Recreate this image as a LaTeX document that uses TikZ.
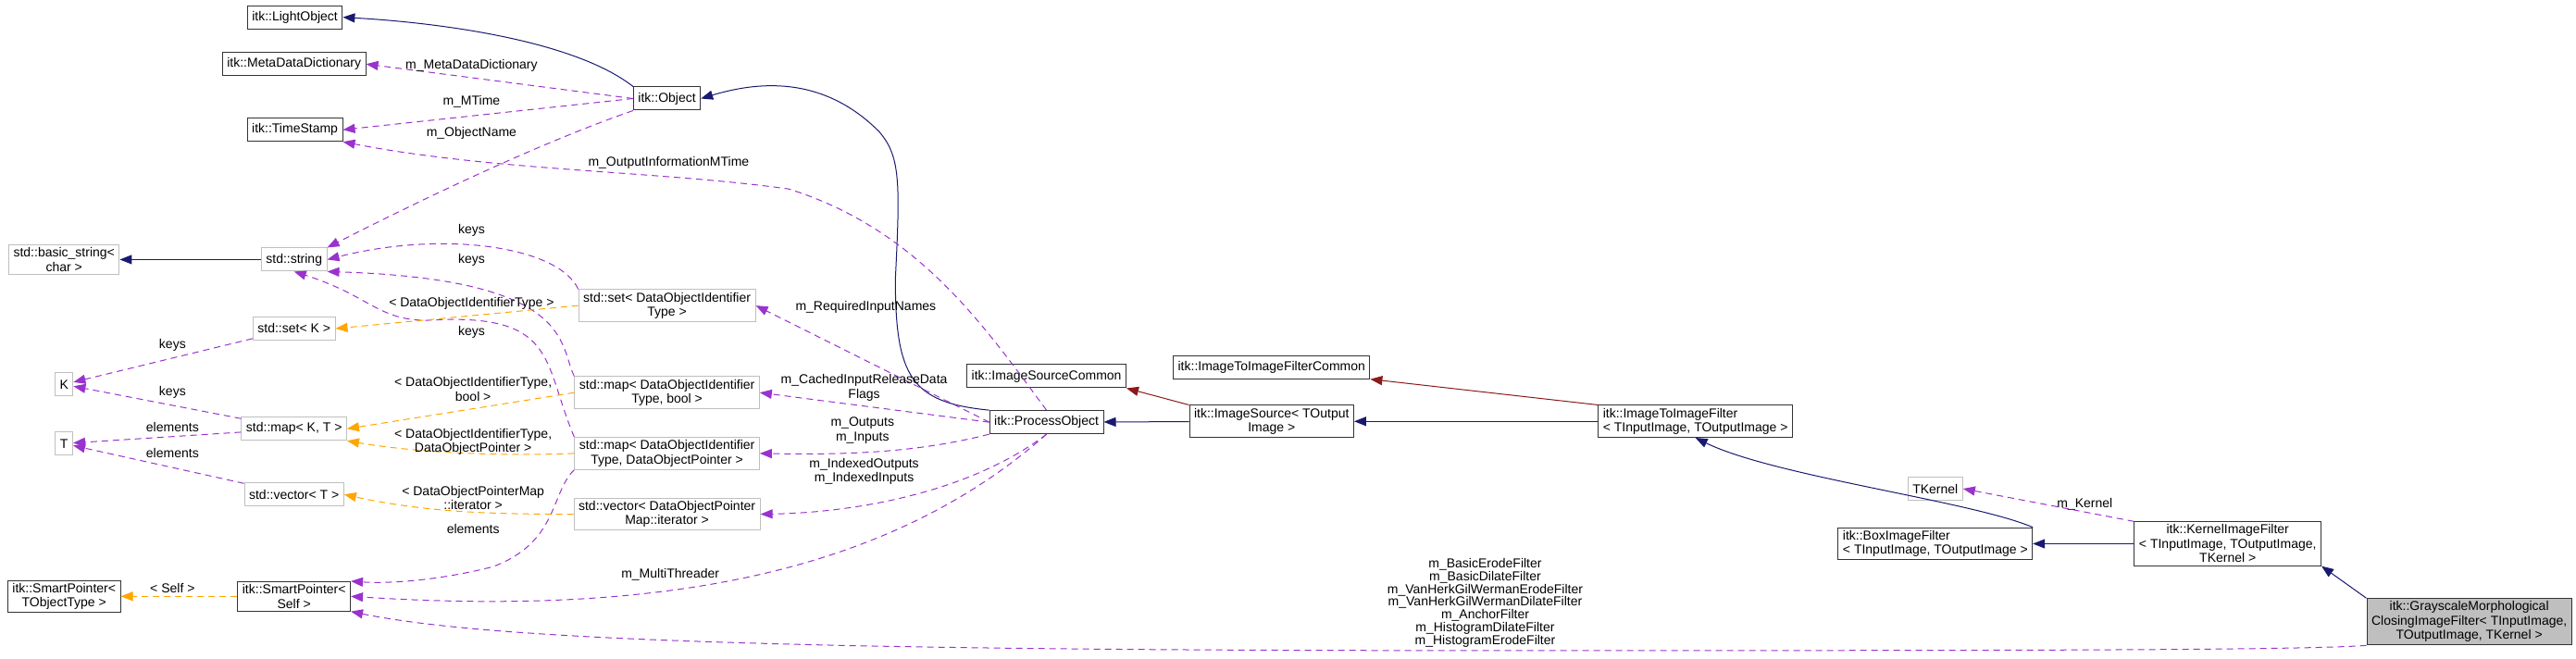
\documentclass[tikz,border=0pt]{standalone}
\usepackage{fontspec}
\setmainfont{Liberation Sans}
\usetikzlibrary{arrows.meta,positioning}
\definecolor{inhblue}{HTML}{191970}
\definecolor{tmplred}{HTML}{8B1A1A}
\definecolor{usepurple}{HTML}{9A32CD}
\definecolor{tmplorange}{HTML}{FFA500}
\definecolor{undocgray}{HTML}{BFBFBF}

\tikzset{
  cls/.style={draw=black!80,line width=1pt,fill=white,inner xsep=5pt,inner ysep=3pt,minimum height=25pt,align=center},
  undoc/.style={cls,draw=undocgray},
  main/.style={cls,fill=black!25},
  inh/.style={inhblue,line width=1pt,-{Triangle[length=13pt,width=10pt]}},
  tmpl/.style={tmplred,line width=1pt,-{Triangle[length=13pt,width=10pt]}},
  use/.style={usepurple,line width=1pt,dash pattern=on 7pt off 5pt,-{Triangle[length=13pt,width=10pt]}},
  spec/.style={tmplorange,line width=1pt,dash pattern=on 7pt off 5pt,-{Triangle[length=13pt,width=10pt]}},
  lbl/.style={align=center,inner sep=0pt}
}

\begin{document}
\begin{tikzpicture}[x=1.775pt,y=-1.775pt,font=\fontsize{14pt}{15.5pt}\selectfont]
  \useasboundingbox (0,0) rectangle (1568,400.6);
  % classes
  \node[cls] (light) at (179.5,10.5) {itk::LightObject};
  \node[cls] (mdd) at (179,39) {itk::MetaDataDictionary};
  \node[cls] (ts) at (179.5,79) {itk::TimeStamp};
  \node[cls] (obj) at (406,60) {itk::Object};
  \node[undoc] (bstr) at (39,158) {std::basic\_string\textless\\char \textgreater};
  \node[undoc] (str) at (179,158) {std::string};
  \node[undoc] (setk) at (179,200) {std::set\textless{} K \textgreater};
  \node[undoc] (k) at (39,234) {K};
  \node[undoc] (t) at (39,270) {T};
  \node[undoc] (mapkt) at (179,261) {std::map\textless{} K, T \textgreater};
  \node[undoc] (vect) at (179,301) {std::vector\textless{} T \textgreater};
  \node[cls] (spobj) at (39,363) {itk::SmartPointer\textless\\TObjectType \textgreater};
  \node[cls] (spself) at (179,363) {itk::SmartPointer\textless\\Self \textgreater};
  \node[undoc] (setdoi) at (406,186) {std::set\textless{} DataObjectIdentifier\\Type \textgreater};
  \node[undoc] (mapbool) at (406,239) {std::map\textless{} DataObjectIdentifier\\Type, bool \textgreater};
  \node[undoc] (mapdop) at (406,276) {std::map\textless{} DataObjectIdentifier\\Type, DataObjectPointer \textgreater};
  \node[undoc] (vecdop) at (406,313) {std::vector\textless{} DataObjectPointer\\Map::iterator \textgreater};
  \node[cls] (isc) at (637,229) {itk::ImageSourceCommon};
  \node[cls] (po) at (637,257) {itk::ProcessObject};
  \node[cls] (i2ic) at (774,223.5) {itk::ImageToImageFilterCommon};
  \node[cls] (isrc) at (774,256.5) {itk::ImageSource\textless{} TOutput\\Image \textgreater};
  \node[cls,align=left] (i2i) at (1032,256.5) {itk::ImageToImageFilter\\\textless{} TInputImage, TOutputImage \textgreater};
  \node[undoc] (tk) at (1178,297.5) {TKernel};
  \node[cls,align=left] (box) at (1178,331) {itk::BoxImageFilter\\\textless{} TInputImage, TOutputImage \textgreater};
  \node[cls] (kif) at (1356,331) {itk::KernelImageFilter\\\textless{} TInputImage, TOutputImage,\\TKernel \textgreater};
  \node[main] (gray) at (1503,378.5) {itk::GrayscaleMorphological\\ClosingImageFilter\textless{} TInputImage,\\TOutputImage, TKernel \textgreater};
  % inheritance
  \draw[inh] (obj.north west) .. controls (350,25) and (270,14) .. (light.east);
  \draw[inh] (po.north west) .. controls (555,245) and (545,230) .. (545,170) .. controls (548,110) and (548,95) .. (535,80) .. controls (500,45) and (460,50) .. (obj.east);
  \draw[inh] (isrc) -- (po);
  \draw[inh] (i2i) -- (isrc);
  \draw[inh] (box.north east) .. controls (1200,305) and (1080,290) .. (i2i.south);
  \draw[inh] (kif) -- (box);
  \draw[inh] (gray.north west) -- (kif.south east);
  \draw[inh] (str) -- (bstr);
  \draw[tmpl] (isrc.north west) -- (isc.south east);
  \draw[tmpl] (i2i.north west) -- (i2ic.south east);
  % members
  \draw[use] (obj.west) -- (mdd.east);
  \node[lbl] (lmdd) at (287,40) {m\_MetaDataDictionary};
  \draw[use] (obj.west) -- (ts.east);
  \node[lbl] (lmt) at (287,62) {m\_MTime};
  \draw[use] (obj.south west) .. controls (320,90) and (240,130) .. (str.north east);
  \node[lbl] (lon) at (287,81) {m\_ObjectName};
  \draw[use] (po.north) .. controls (600,200) and (560,140) .. (480,115) .. controls (400,104) and (300,104) .. (ts.south east);
  \node[lbl] (loim) at (407,99) {m\_OutputInformationMTime};
  \draw[use] (setdoi.north west) .. controls (340,150) and (270,140) .. (str.east);
  \node[lbl] (lk1) at (287,140) {keys};
  \draw[use] (mapbool.north west) .. controls (340,210) and (350,170) .. (str.south east);
  \node[lbl] (lk2) at (287,158) {keys};
  \draw[use] (mapdop.north west) .. controls (330,220) and (340,190) .. (260,195) .. controls (230,195) and (225,180) .. (str.south);
  \node[lbl] (lk3) at (287,202) {keys};
  \draw[use] (setk) -- (k);
  \node[lbl] (lk4) at (105,210) {keys};
  \draw[use] (mapkt) -- (k);
  \node[lbl] (lk5) at (105,239) {keys};
  \draw[use] (mapkt) -- (t);
  \node[lbl] (le1) at (105,260) {elements};
  \draw[use] (vect) -- (t);
  \node[lbl] (le2) at (105,276) {elements};
  \draw[use] (mapdop.south west) .. controls (335,300) and (340,330) .. (300,345) .. controls (260,355) and (230,355) .. (spself.north east);
  \node[lbl] (le3) at (288,322) {elements};
  \draw[use] (po.west) -- (setdoi.east);
  \node[lbl] (lrin) at (527,187) {m\_RequiredInputNames};
  \draw[use] (po.west) -- (mapbool.east);
  \node[lbl] (lcir) at (526,236) {m\_CachedInputReleaseData\\Flags};
  \draw[use] (po.south west) .. controls (560,275) and (520,277) .. (mapdop.east);
  \node[lbl] (loi) at (525,262) {m\_Outputs\\m\_Inputs};
  \draw[use] (po.south) .. controls (590,300) and (520,312) .. (vecdop.east);
  \node[lbl] (lii) at (526,287) {m\_IndexedOutputs\\m\_IndexedInputs};
  \draw[use] (po.south) .. controls (540,350) and (400,375) .. (spself.east);
  \node[lbl] (lmt2) at (408,350) {m\_MultiThreader};
  \draw[use] (gray.south west) .. controls (1400,396) and (1200,396) .. (900,396) .. controls (500,396) and (300,390) .. (spself.south east);
  \node[lbl,font=\fontsize{14pt}{12.4pt}\selectfont] (lfilt) at (904,367) {m\_BasicErodeFilter\\m\_BasicDilateFilter\\m\_VanHerkGilWermanErodeFilter\\m\_VanHerkGilWermanDilateFilter\\m\_AnchorFilter\\m\_HistogramDilateFilter\\m\_HistogramErodeFilter};
  \draw[use] (kif.north west) -- (tk.east);
  \node[lbl] (lker) at (1269,307) {m\_Kernel};
  % template instances
  \draw[spec] (setdoi.west) -- (setk.east);
  \node[lbl] (ls1) at (287,185) {\textless{} DataObjectIdentifierType \textgreater};
  \draw[spec] (mapbool.west) -- (mapkt.east);
  \node[lbl] (ls2) at (288,237) {\textless{} DataObjectIdentifierType,\\bool \textgreater};
  \draw[spec] (mapdop.west) .. controls (300,278) and (250,275) .. (mapkt.south east);
  \node[lbl] (ls3) at (288,269) {\textless{} DataObjectIdentifierType,\\DataObjectPointer \textgreater};
  \draw[spec] (vecdop.west) .. controls (300,313) and (260,312) .. (vect.east);
  \node[lbl] (ls4) at (288,303) {\textless{} DataObjectPointerMap\\::iterator \textgreater};
  \draw[spec] (spself) -- (spobj);
  \node[lbl] (ls5) at (105,358) {\textless{} Self \textgreater};
\end{tikzpicture}
\end{document}
